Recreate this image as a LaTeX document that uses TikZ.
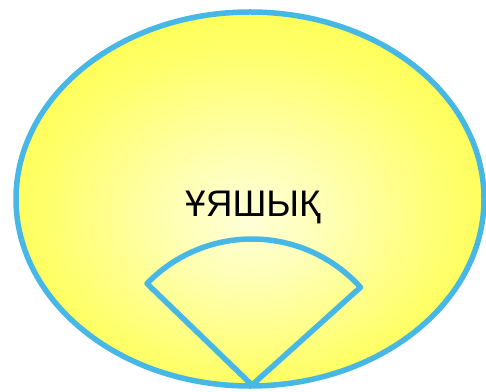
\documentclass[tikz,border=0pt]{standalone}
\usepackage{fontspec}
\setmainfont{Liberation Sans}
\usepackage{tikz}
\usetikzlibrary{positioning}
\usepackage{xcolor}
\definecolor{rim}{HTML}{47B8E6}
\definecolor{sunedge}{HTML}{FFFF2E}
\definecolor{suncore}{HTML}{FFFFD8}
\pgfdeclareradialshading{sunglow}{\pgfpoint{0bp}{-3bp}}{%
  color(0bp)=(suncore); color(8bp)=(suncore!80!sunedge); color(22bp)=(suncore!35!sunedge); color(38bp)=(sunedge); color(50bp)=(sunedge)}

\begin{document}
\begin{tikzpicture}[x=1pt, y=1pt, line join=round]
    \useasboundingbox (0,0) rectangle (486,391);
    % nest
    \draw[rim, line width=5.5pt, shading=sunglow] (250,192) ellipse [x radius=234, y radius=187];
    \node[font=\fontsize{37}{40}\selectfont] (word) at (253,184) {ҰЯШЫҚ};
    % wedge
    \coordinate (tip) at (252,6);
    \draw[rim, line width=5.5pt] (tip) -- +(136:146) arc[start angle=136, end angle=42, radius=146] -- cycle;
  \end{tikzpicture}
\end{document}
